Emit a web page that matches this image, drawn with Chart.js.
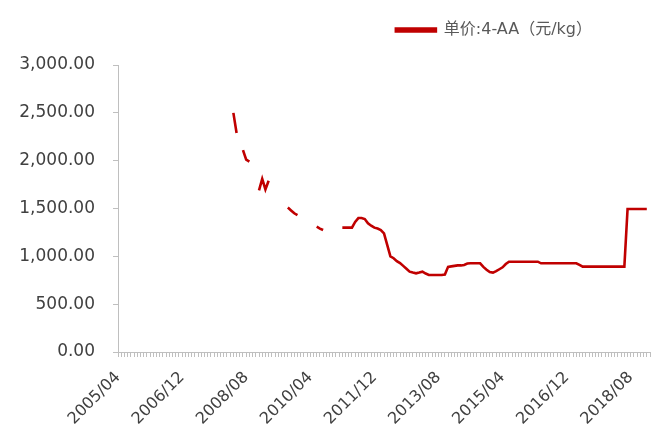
<!DOCTYPE html>
<html lang="zh">
<head>
    <meta charset="UTF-8">
    <title>单价:4-AA</title>
    <script src="https://cdn.jsdelivr.net/npm/chart.js"></script>
    <style>
        html, body { margin: 0; padding: 0; background: #fff; }
        #wrap { width: 659px; height: 432px; position: relative; }
    </style>
</head>
<body>
<div id="wrap"><canvas id="priceChart"></canvas></div>
<script>
    // x axis: monthly categories from 2005/04, only some of them get a label
    const startYear = 2005;
    const startMonth = 4;
    const monthCount = 167;
    const tickLabels = ['2005/04', '2006/12', '2008/08', '2010/04', '2011/12', '2013/08', '2015/04', '2016/12', '2018/08'];

    const seriesName = '单价:4-AA（元/kg）';

    // prices per year (null = no data)
    const p2005 = [null, null, null, null, null, null, null, null, null];
    const p2006 = [null, null, null, null, null, null, null, null, null, null, null, null];
    const p2007 = [null, null, null, null, null, null, null, null, null, null, null, null];
    const p2008 = [null, null, null, 2500, 2290, null, 2110, 2010, 1990, null, null, 1690];
    const p2009 = [1810, 1700, 1790, null, null, null, null, null, 1510, 1480, 1450, 1430];
    const p2010 = [null, null, null, null, null, 1310, 1290, 1275, null, null, null, null];
    const p2011 = [null, 1300, 1300, 1300, 1300, 1360, 1400, 1400, 1390, 1345, 1320, 1300];
    const p2012 = [1290, 1275, 1240, 1120, 1000, 980, 950, 930, 900, 870, 840, 830];
    const p2013 = [822, 830, 840, 820, 805, 805, 805, 805, 805, 810, 890, 895];
    const p2014 = [900, 905, 905, 910, 925, 927, 927, 927, 927, 890, 860, 835];
    const p2015 = [830, 845, 865, 885, 920, 944, 944, 944, 944, 944, 944, 944];
    const p2016 = [944, 944, 944, 927, 927, 927, 927, 927, 927, 927, 927, 927];
    const p2017 = [927, 927, 927, 910, 892, 892, 892, 892, 892, 892, 892, 892];
    const p2018 = [892, 892, 892, 892, 892, 892, 1495, 1495, 1495, 1495, 1495, 1495];
    const p2019 = [1495, null];

    const prices = [].concat(p2005, p2006, p2007, p2008, p2009, p2010, p2011,
        p2012, p2013, p2014, p2015, p2016, p2017, p2018, p2019);

    const months = [];
    for (let i = 0; i < monthCount; i++) {
        const m = startMonth - 1 + i;
        const y = startYear + Math.floor(m / 12);
        const mm = (m % 12) + 1;
        months.push(y + '/' + (mm < 10 ? '0' + mm : mm));
    }

    const fontFamily = "'DejaVu Sans', 'Noto Sans CJK SC', sans-serif";

    // move the legend up and to the left without touching the plot area
    const legendPlace = {
        id: 'legendPlace',
        afterLayout(chart) {
            const lg = chart.legend;
            lg.top -= 17;
            lg.bottom -= 17;
            lg.right = 602;
        }
    };

    new Chart(document.getElementById('priceChart'), {
        type: 'line',
        data: {
            labels: months,
            datasets: [{
                label: seriesName,
                data: prices,
                borderColor: '#c00000',
                backgroundColor: '#c00000',
                borderWidth: 2.6,
                pointRadius: 0,
                tension: 0,
                spanGaps: false
            }]
        },
        options: {
            responsive: true,
            maintainAspectRatio: false,
            animation: false,
            layout: { padding: { top: 29, right: 0, left: 0, bottom: 0 } },
            plugins: {
                legend: {
                    position: 'top',
                    align: 'end',
                    labels: {
                        boxWidth: 40,
                        boxHeight: 3,
                        padding: 10,
                        color: '#595959',
                        font: { family: fontFamily, size: 16 }
                    }
                },
                tooltip: { enabled: false }
            },
            scales: {
                x: {
                    type: 'category',
                    offset: false,
                    grid: {
                        drawOnChartArea: false,
                        drawTicks: true,
                        tickLength: 5,
                        color: '#bfbfbf'
                    },
                    border: { color: '#bfbfbf' },
                    ticks: {
                        autoSkip: false,
                        minRotation: 45,
                        maxRotation: 45,
                        padding: 11,
                        color: '#404040',
                        font: { family: fontFamily, size: 16 },
                        callback: function (val) {
                            const lab = this.getLabelForValue(val);
                            return tickLabels.includes(lab) ? lab : '';
                        }
                    },
                    afterFit: s => { s.height = 80; s.paddingRight = 9; }
                },
                y: {
                    min: 0,
                    max: 3000,
                    grid: {
                        drawOnChartArea: false,
                        drawTicks: true,
                        tickLength: 5,
                        color: '#bfbfbf'
                    },
                    border: { color: '#bfbfbf' },
                    ticks: {
                        stepSize: 500,
                        padding: 18,
                        color: '#404040',
                        font: { family: fontFamily, size: 17 },
                        callback: v => v.toLocaleString('en-US', { minimumFractionDigits: 2, maximumFractionDigits: 2 })
                    },
                    afterFit: s => { s.width = 118; }
                }
            }
        },
        plugins: [legendPlace]
    });
</script>
</body>
</html>
